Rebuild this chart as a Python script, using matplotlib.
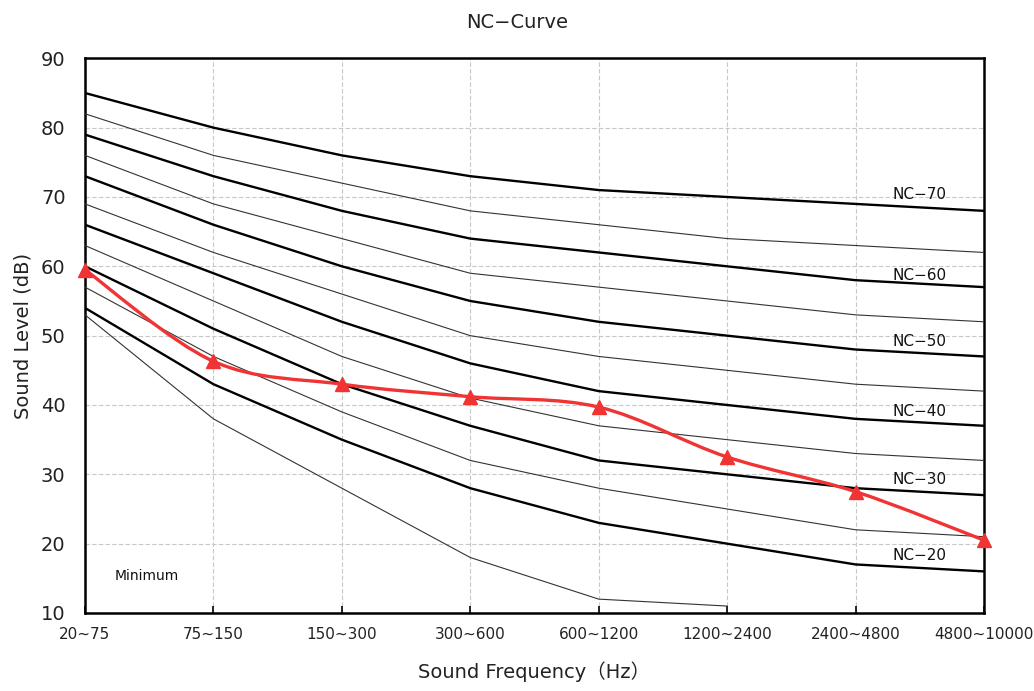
import matplotlib
matplotlib.use("Agg")
import matplotlib.pyplot as plt
from matplotlib.path import Path
from matplotlib.patches import PathPatch
import numpy as np

plt.rcParams['font.family'] = ['DejaVu Sans', 'Noto Sans CJK JP']

categories = ["20~75", "75~150", "150~300", "300~600", "600~1200",
              "1200~2400", "2400~4800", "4800~10000"]

nc70 = [85, 80, 76, 73, 71, 70, 69, 68]
nc65 = [82, 76, 72, 68, 66, 64, 63, 62]
nc60 = [79, 73, 68, 64, 62, 60, 58, 57]
nc55 = [76, 69, 64, 59, 57, 55, 53, 52]
nc50 = [73, 66, 60, 55, 52, 50, 48, 47]
nc45 = [69, 62, 56, 50, 47, 45, 43, 42]
nc40 = [66, 59, 52, 46, 42, 40, 38, 37]
nc35 = [63, 55, 47, 41, 37, 35, 33, 32]
nc30 = [60, 51, 43, 37, 32, 30, 28, 27]
nc25 = [57, 47, 39, 32, 28, 25, 22, 21]
nc20 = [54, 43, 35, 28, 23, 20, 17, 16]
minimum = [53, 38, 28, 18, 12, 11]

measured = [59.5, 46.3, 43.0, 41.2, 39.7, 32.5, 27.5, 20.5]

thick_names = ["NC\u221270", "NC\u221260", "NC\u221250", "NC\u221240", "NC\u221230", "NC\u221220"]
thick_curves = [nc70, nc60, nc50, nc40, nc30, nc20]
label_offsets = [2.4, 1.7, 2.1, 2.1, 2.3, 2.3]
thin_curves = [nc65, nc55, nc45, nc35, nc25, minimum]

fig = plt.figure(figsize=(10.34, 6.91), dpi=100)
ax = fig.add_axes([0.0822, 0.1129, 0.8694, 0.8027])

x = np.arange(len(categories))

for c in thin_curves:
    ax.plot(x[:len(c)], c, color="#333333", lw=0.8, zorder=3)
for name, c, off in zip(thick_names, thick_curves, label_offsets):
    ax.plot(x, c, color="black", lw=1.7, zorder=3)
    ax.text(6.5, c[-1] + off, name, ha="center", va="center",
            fontsize=11, color="#111111", zorder=4)

# smooth red line (Catmull-Rom style Bezier like spreadsheet smoothing)
pts = np.column_stack([x, measured]).astype(float)
n = len(pts)
verts = [pts[0]]
codes = [Path.MOVETO]
for i in range(n - 1):
    p0 = pts[max(i - 1, 0)]
    p1 = pts[i]
    p2 = pts[i + 1]
    p3 = pts[min(i + 2, n - 1)]
    c1 = p1 + (p2 - p0) / 6.0
    c2 = p2 - (p3 - p1) / 6.0
    verts += [c1, c2, p2]
    codes += [Path.CURVE4] * 3
ax.add_patch(PathPatch(Path(verts, codes), facecolor="none",
                       edgecolor="#f03434", lw=2.4, zorder=5, clip_on=False))
ax.plot(x, measured, linestyle="none", marker="^", markersize=10,
        color="#f03434", zorder=6, clip_on=False)

ax.text(0.23, 15.3, "Minimum", fontsize=10, ha="left", va="center",
        color="#111111")

ax.set_xlim(0, len(categories) - 1)
ax.set_ylim(10, 90)
ax.set_yticks(np.arange(10, 91, 10))
ax.set_xticks(x)
ax.set_xticklabels(categories, fontsize=11)
ax.tick_params(axis="y", length=0, pad=14, labelsize=14, colors="#222222")
ax.tick_params(axis="x", direction="in", length=5, width=1.2, pad=10,
               colors="black", labelcolor="#222222")
ax.grid(True, color="#c8c8c8", linestyle=(0, (4, 2)), lw=0.8, zorder=0)
ax.set_axisbelow(True)
for s in ax.spines.values():
    s.set_linewidth(1.8)
    s.set_color("black")

ax.set_ylabel("Sound Level (dB)", fontsize=14, color="#222222", labelpad=6)
ax.set_xlabel("Sound Frequency\uff08Hz\uff09", fontsize=14, color="#222222",
              labelpad=14)
fig.text(0.5, 0.967, "NC\u2212Curve", ha="center", va="center", fontsize=14,
         color="#222222")

fig.savefig("out.png", dpi=100)
